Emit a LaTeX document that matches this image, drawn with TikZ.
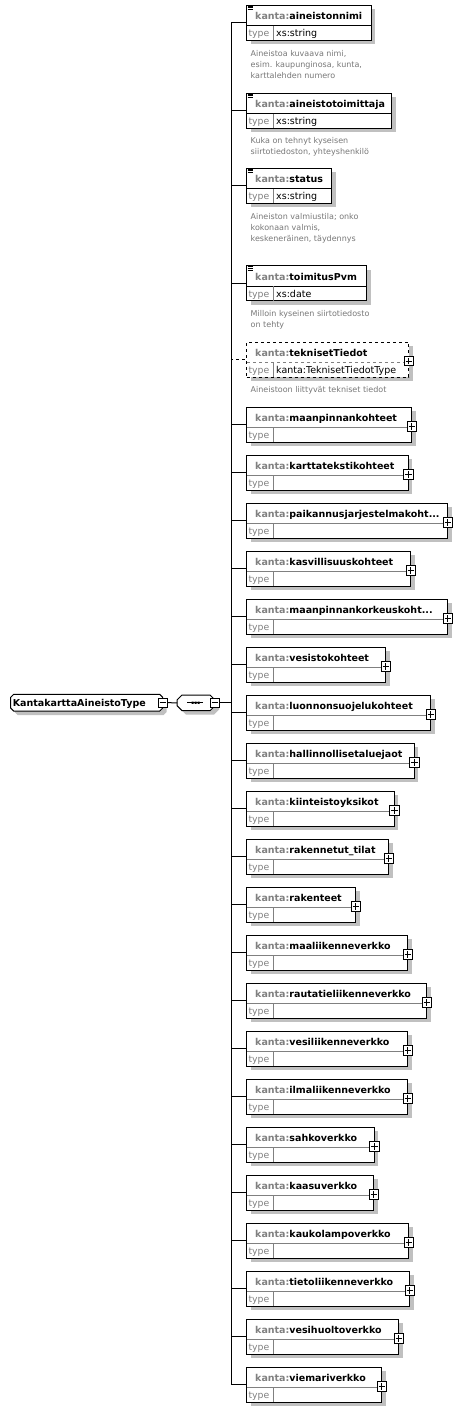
\documentclass[tikz,border=0pt]{standalone}
\usepackage{fontspec}
\setmainfont{DejaVu Sans}
\definecolor{shadowc}{RGB}{192,192,192}
\definecolor{kgrey}{RGB}{128,128,128}
\definecolor{tgrey}{RGB}{128,128,128}
\definecolor{dgrey}{RGB}{120,120,120}
\newcommand\tdots{...}
\tikzset{
  elbox/.style={draw=black,line width=1pt,fill=white,minimum height=35pt,inner sep=0pt,outer sep=0pt},
  nm/.style={anchor=base west,inner sep=0pt,font=\fontsize{9.5}{11}\selectfont\bfseries},
  ty/.style={anchor=base west,inner sep=0pt,text=tgrey,font=\fontsize{9.3}{11}\selectfont},
  tv/.style={anchor=base west,inner sep=0pt,text=black,font=\fontsize{9.5}{11}\selectfont},
  ds/.style={anchor=base west,inner sep=0pt,text=dgrey,font=\fontsize{8}{11}\selectfont},
  conn/.style={line width=1pt,draw=black},
  plusb/.style={draw=black,fill=white,line width=.8pt,minimum size=9.5pt,inner sep=0pt,outer sep=0pt,
    path picture={\draw[line width=.8pt] ([xshift=-3.2pt]path picture bounding box.center) -- ([xshift=3.2pt]path picture bounding box.center)
      ([yshift=-3.2pt]path picture bounding box.center) -- ([yshift=3.2pt]path picture bounding box.center);}},
  minusb/.style={draw=black,fill=white,line width=.8pt,minimum size=9pt,inner sep=0pt,outer sep=0pt,
    path picture={\draw[line width=.8pt] ([xshift=-3.2pt]path picture bounding box.center) -- ([xshift=3.2pt]path picture bounding box.center);}},
  anchorbox/.style={draw=none,inner sep=0pt,outer sep=0pt},
}
% chamfered outline: #1 left, #2 top, #3 right, #4 bottom, #5 chamfer
\newcommand\chamf[5]{(#1+#5,#2) -- (#3-#5,#2) -- (#3,#2+#5) -- (#3,#4-#5) -- (#3-#5,#4) -- (#1+#5,#4) -- (#1,#4-#5) -- (#1,#2+#5) -- cycle}
% typed element with icon
\newcommand\elemT[5]{%
  \fill[shadowc] (250.7,#2+4) rectangle (#3+4,#2+39);
  \node[elbox,minimum width={#3-246.7},anchor=north west] (#1) at (246.7,#2) {};
  \draw[line width=1pt] (246.7,#2+20.5) -- (#3,#2+20.5);
  \draw[tgrey,line width=1pt] (273.3,#2+20.5) -- (273.3,#2+35);
  \node[nm] (#1-n) at (255,#2+14) {\textcolor{kgrey}{kanta:}#4};
  \node[ty] (#1-t) at (248.3,#2+31.5) {type};
  \node[tv] (#1-v) at (276,#2+31.5) {#5};
  \draw[line width=.7pt] (247.7,#2+0.8) -- (252.7,#2+0.8) (247.7,#2+2.4) -- (252.7,#2+2.4) (247.7,#2+4) -- (252.7,#2+4);
}
% element with anonymous type and plus
\newcommand\elemE[4]{%
  \fill[shadowc] (250.7,#2+4) rectangle (#3+4,#2+39);
  \node[elbox,minimum width={#3-246.7},anchor=north west] (#1) at (246.7,#2) {};
  \draw[tgrey,line width=1pt] (247.2,#2+20.5) -- (#3-0.5,#2+20.5);
  \draw[tgrey,line width=1pt] (273.3,#2+20.5) -- (273.3,#2+34.5);
  \node[nm] (#1-n) at (255,#2+14) {\textcolor{kgrey}{kanta:}#4};
  \node[ty] (#1-t) at (248.3,#2+31.5) {type};
  \node[plusb] (#1-p) at (#3,#2+19) {};
}
\begin{document}
\begin{tikzpicture}[x=1pt,y=-1pt]
\useasboundingbox (0,0) rectangle (462,1412);
\fill[white] (0,0) rectangle (462,1412);

% root
\fill[shadowc] \chamf{14.7}{698.3}{166.7}{715}{3};
\filldraw[fill=white,draw=black,line width=1pt] \chamf{10.7}{694.3}{162.7}{711}{3};
\node[anchorbox,minimum width=152pt,minimum height=16.7pt] (root) at (86.7,702.7) {};
\node[nm] (root-t) at (12.6,706.6) {KantakarttaAineistoType};
\node[minusb] (rootm) at (162.7,702.7) {};

% sequence compositor
\fill[shadowc] \chamf{181}{699}{219}{714.7}{5};
\filldraw[fill=white,draw=black,line width=1pt] \chamf{177}{695}{215}{710.7}{5};
\node[anchorbox,minimum width=38pt,minimum height=15.7pt] (seq) at (196,702.8) {};
\draw[line width=1pt] (187.3,702.7) -- (202.7,702.7);
\fill (191.6,701.6) rectangle (193.6,703.8) (194.6,701.6) rectangle (196.6,703.8) (197.6,701.6) rectangle (199.6,703.8);
\node[minusb] (seqm) at (215,702.7) {};

\coordinate (bus) at (231.5,702.7);
\draw[conn] (rootm.east) -- (seq.west);
\draw[conn] (seqm.east) -- (bus);

% typed elements
\elemT{e1}{5.3}{371.3}{aineistonnimi}{xs:string}
\elemT{e2}{93.3}{391.7}{aineistotoimittaja}{xs:string}
\elemT{e3}{168.3}{331.7}{status}{xs:string}
\elemT{e4}{266}{366.7}{toimitusPvm}{xs:date}

% descriptions
\node[ds] (d1a) at (250.5,56.3) {Aineistoa kuvaava nimi,};
\node[ds] (d1b) at (250.5,67.3) {esim. kaupunginosa, kunta,};
\node[ds] (d1c) at (250.5,78.3) {karttalehden numero};
\node[ds] (d2a) at (250.5,143.3) {Kuka on tehnyt kyseisen};
\node[ds] (d2b) at (250.5,154.5) {siirtotiedoston, yhteyshenkilö};
\node[ds] (d3a) at (250.5,219.5) {Aineiston valmiustila; onko};
\node[ds] (d3b) at (250.5,230.3) {kokonaan valmis,};
\node[ds] (d3c) at (250.5,241.3) {keskeneräinen, täydennys};
\node[ds] (d4a) at (250.5,316.8) {Milloin kyseinen siirtotiedosto};
\node[ds] (d4b) at (250.5,327.8) {on tehty};
\node[ds] (d5a) at (250.5,392.8) {Aineistoon liittyvät tekniset tiedot};

% optional element teknisetTiedot
\fill[shadowc] (250.7,346) rectangle (412.7,381);
\node[elbox,dashed,minimum width=162pt,anchor=north west] (e5) at (246.7,342) {};
\draw[tgrey,dashed,line width=1pt] (247.2,362.5) -- (408.2,362.5);
\draw[tgrey,line width=1pt] (273.3,362.5) -- (273.3,376.5);
\node[nm] (e5-n) at (255,356) {\textcolor{kgrey}{kanta:}teknisetTiedot};
\node[ty] (e5-t) at (248.3,373.5) {type};
\node[tv] (e5-v) at (276,373.5) {kanta:TeknisetTiedotType};
\node[plusb] (e5-p) at (408.7,361) {};

% anonymous-type elements
\foreach \i/\nmtext/\r in {0/maanpinnankohteet/411.7, 1/karttatekstikohteet/408.3,
  2/{paikannusjarjestelmakoht\tdots}/447.7, 3/kasvillisuuskohteet/410.7,
  4/{maanpinnankorkeuskoht\tdots}/447.7, 5/vesistokohteet/385.7,
  6/luonnonsuojelukohteet/430.7, 7/hallinnollisetaluejaot/414.3,
  8/kiinteistoyksikot/394.3, 9/{rakennetut\_tilat}/388.7, 10/rakenteet/355.7,
  11/maaliikenneverkko/407.7, 12/rautatieliikenneverkko/426.7,
  13/vesiliikenneverkko/407.7, 14/ilmaliikenneverkko/407.7,
  15/sahkoverkko/374.3, 16/kaasuverkko/373.7, 17/kaukolampoverkko/408.7,
  18/tietoliikenneverkko/409.7, 19/vesihuoltoverkko/398.7, 20/viemariverkko/381.7}{
  \pgfmathsetmacro\tp{407.3+48*\i}
  \elemE{f\i}{\tp}{\r}{\nmtext}
}

% connectors
\draw[conn,dashed] (bus) |- (e5.west);
\foreach \n in {e1,e2,e3,e4}{\draw[conn] (bus) |- (\n.west);}
\foreach \i in {0,...,20}{\draw[conn] (bus) |- (f\i.west);}
\end{tikzpicture}
\end{document}
